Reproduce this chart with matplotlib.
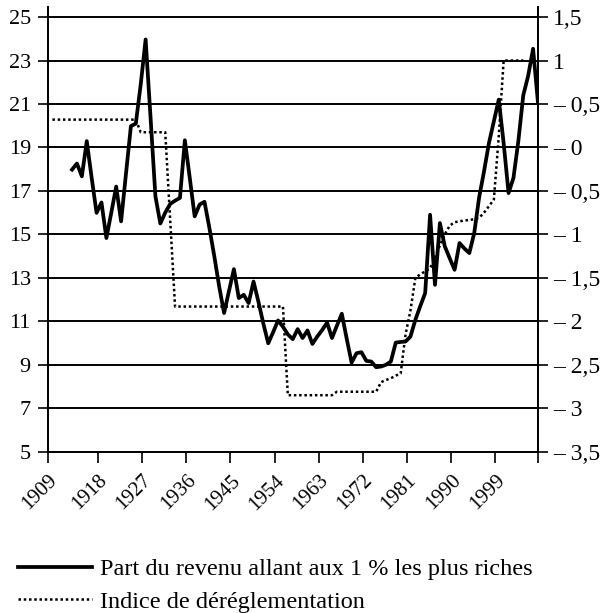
import matplotlib
matplotlib.use("Agg")
import matplotlib.pyplot as plt

plt.rcParams['font.family'] = ['Liberation Serif', 'DejaVu Serif']

# ---------------- data ----------------
income_years = list(range(1913, 2009))
income_share = [
    17.98, 18.26, 17.67, 19.29, 17.6, 15.99, 16.47, 14.83, 16.0, 17.2,      # 1913-1922
    15.6, 17.8, 19.98, 20.1, 21.9, 23.97, 20.4, 16.75, 15.5, 16.0,          # 1923-1932
    16.4, 16.55, 16.68, 19.33, 17.6, 15.83, 16.37, 16.5, 15.3, 14.0,        # 1933-1942
    12.6, 11.38, 12.4, 13.4, 12.07, 12.22, 11.84, 12.83, 11.9, 10.9,        # 1943-1952
    9.99, 10.5, 11.04, 10.75, 10.4, 10.18, 10.64, 10.23, 10.58, 9.96,       # 1953-1962
    10.3, 10.6, 10.94, 10.23, 10.8, 11.35, 10.2, 9.1, 9.53, 9.58,           # 1963-1972
    9.18, 9.15, 8.89, 8.92, 9.0, 9.15, 10.02, 10.05, 10.07, 10.3,           # 1973-1982
    11.07, 11.7, 12.3, 15.9, 12.68, 15.52, 14.45, 13.9, 13.37, 14.6,        # 1983-1992
    14.35, 14.14, 15.06, 16.7, 17.9, 19.2, 20.2, 21.2, 19.2, 16.9,          # 1993-2002
    17.6, 19.3, 21.4, 22.3, 23.54, 21.06,                                   # 2003-2008
]

dereg_years = list(range(1909, 2006))
dereg_index = [
    0.32, 0.32, 0.32, 0.32, 0.32, 0.32, 0.32, 0.32, 0.32, 0.32,             # 1909-1918
    0.32, 0.32, 0.32, 0.32, 0.32, 0.32, 0.32, 0.32, 0.175, 0.175,           # 1919-1928
    0.175, 0.175, 0.175, 0.175, -0.825, -1.83, -1.83, -1.83, -1.83, -1.83,  # 1929-1938
    -1.83, -1.83, -1.83, -1.83, -1.83, -1.83, -1.83, -1.83, -1.83, -1.83,   # 1939-1948
    -1.83, -1.83, -1.83, -1.83, -1.83, -1.83, -1.83, -1.83, -2.85, -2.85,   # 1949-1958
    -2.85, -2.85, -2.85, -2.85, -2.85, -2.85, -2.85, -2.85, -2.81, -2.81,   # 1959-1968
    -2.81, -2.81, -2.81, -2.81, -2.81, -2.81, -2.81, -2.70, -2.675, -2.655, # 1969-1978
    -2.625, -2.60, -2.15, -1.875, -1.50, -1.46, -1.425, -1.39, -1.275, -1.125,  # 1979-1988
    -1.0, -0.9, -0.86, -0.85, -0.84, -0.835, -0.825, -0.81, -0.75, -0.675,  # 1989-1998
    -0.60, 0.125, 1.0, 1.0, 1.0, 1.0, 1.0,                                  # 1999-2005
]

left_ticks = [5, 7, 9, 11, 13, 15, 17, 19, 21, 23, 25]
right_ticks = [-3.5, -3, -2.5, -2, -1.5, -1, -0.5, 0, 0.5, 1, 1.5]
right_labels = ["– 3,5", "– 3", "– 2,5", "– 2", "– 1,5", "– 1", "– 0,5",
                "– 0", "– 0,5", "1", "1,5"]
xtick_labels = ["1909", "1918", "1927", "1936", "1945", "1954", "1963",
                "1972", "1981", "1990", "1999", ""]

label_income = "Part du revenu allant aux 1 % les plus riches"
label_dereg = "Indice de déréglementation"

# ---------------- figure ----------------
fig = plt.figure(figsize=(6.07, 6.13), dpi=100)
ax = fig.add_axes([0.0783, 0.2631, 0.808, 0.7254])
x0, x1 = 1908, 2008
y0, y1 = 5, 25.46
ax.set_xlim(x0, x1)
ax.set_ylim(y0, y1)

ax2 = ax.twinx()
ax2.set_ylim((y0 - 19) / 4, (y1 - 19) / 4)

ax.set_yticks(left_ticks)
ax.grid(axis='y', color='black', linewidth=1.4)
ax.set_axisbelow(True)

xpos = [x0] + [int(t) + 0.3 for t in xtick_labels[1:-1]] + [x1]
ax.set_xticks(xpos)
ax.set_xticklabels(xtick_labels, rotation=45, ha='right', va='top',
                   rotation_mode='anchor')

ax2.set_yticks(right_ticks)
ax2.set_yticklabels(right_labels)

for a in (ax, ax2):
    for s in a.spines.values():
        s.set_linewidth(1.3)
    a.spines['top'].set_visible(False)

ax.tick_params(axis='y', direction='out', length=7, width=1.2, labelsize=16, pad=5)
ax.tick_params(axis='x', direction='out', length=8, width=1.2, labelsize=15, pad=6)
ax2.tick_params(axis='y', direction='out', length=7, width=1.2, labelsize=17, pad=4)

l1, = ax.plot(income_years, income_share, color='black', linewidth=2.7,
              label=label_income, zorder=3)
l2, = ax2.plot(dereg_years, dereg_index, color='black', linewidth=1.8,
               linestyle=(0, (1, 1.1)), label=label_dereg, zorder=3)

fig.legend(handles=[l1, l2], loc='upper left', bbox_to_anchor=(0.03, 0.089),
           frameon=False, fontsize=17.5, handlelength=3.05, handletextpad=0.33,
           labelspacing=0.42, borderaxespad=0, borderpad=0)

fig.savefig("out.png", dpi=100)
